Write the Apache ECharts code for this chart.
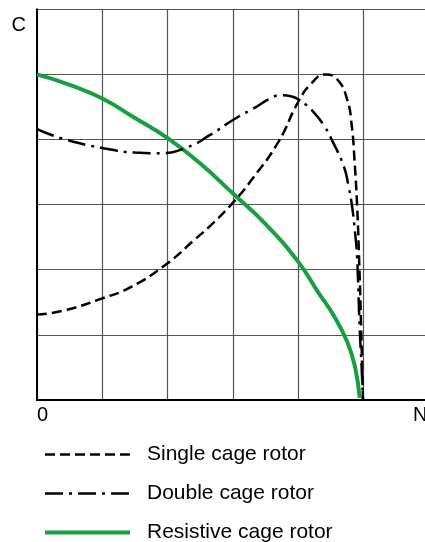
<!DOCTYPE html>
<html>
<head>
<meta charset="utf-8">
<script src="https://cdn.jsdelivr.net/npm/echarts@6/dist/echarts.min.js"></script>
<style>
html,body{margin:0;padding:0;background:#fff;}
#c{width:425px;height:542px;}
</style>
</head>
<body>
<div id="c"></div>
<script>
// Data (x: speed in grid units, y: torque in grid units)
const seriesNames = ['Single cage rotor', 'Double cage rotor', 'Resistive cage rotor'];
const singleX = [0, 0.4, 1, 1.45, 2, 2.4, 2.7, 3, 3.3, 3.7, 4, 4.2, 4.41, 4.6, 4.75, 4.82, 4.86, 4.9, 4.93, 4.96, 4.99];
const singleY = [1.31, 1.37, 1.56, 1.74, 2.1, 2.45, 2.72, 3.03, 3.4, 3.97, 4.58, 4.86, 5.0, 4.92, 4.61, 4.2, 3.69, 3.0, 2.2, 1.2, 0];
const doubleX = [0, 0.4, 1, 1.5, 1.9, 2.3, 2.65, 3, 3.37, 3.55, 3.73, 3.9, 4.05, 4.2, 4.39, 4.54, 4.7, 4.77, 4.82, 4.87, 4.9, 4.94, 4.97, 4.99];
const doubleY = [4.16, 4.01, 3.87, 3.80, 3.79, 3.88, 4.07, 4.30, 4.51, 4.62, 4.68, 4.66, 4.58, 4.46, 4.22, 3.94, 3.58, 3.28, 3.0, 2.56, 2.2, 1.1, 0.5, 0];
const resX = [0, 0.5, 1, 1.5, 2, 2.5, 3, 3.5, 4, 4.3, 4.54, 4.75, 4.87, 4.94];
const resY = [5.0, 4.84, 4.63, 4.33, 4.02, 3.63, 3.17, 2.70, 2.12, 1.66, 1.3, 0.89, 0.5, 0.03];
const xTickLabels = ['0'];
const xAxisName = 'N';
const yAxisName = 'C';

function pairs(xs, ys) { return xs.map((x, i) => [x, ys[i]]); }

const font = 'Liberation Sans, Arial, Helvetica, sans-serif';
const green = '#17a03f';
const chart = echarts.init(document.getElementById('c'), null, {renderer: 'canvas'});
chart.setOption({
  animation: false,
  backgroundColor: '#fff',
  grid: {left: 37, top: 9.3, right: 0, height: 390.6, containLabel: false, outerBoundsMode: 'none'},
  legend: {
    orient: 'vertical',
    left: 43,
    top: 444,
    height: 200,
    padding: 0,
    itemWidth: 85,
    itemHeight: 14,
    itemGap: 18,
    selectedMode: false,
    itemStyle: {opacity: 0},
    textStyle: {fontFamily: font, fontSize: 21, color: '#000', padding: [0, 0, 8, 12]},
    data: [
      {name: seriesNames[0], lineStyle: {width: 2.5}},
      {name: seriesNames[1], lineStyle: {width: 2.5}},
      {name: seriesNames[2], lineStyle: {width: 4}}
    ]
  },
  xAxis: {
    type: 'value', min: 0, max: 5.94, interval: 1,
    name: xAxisName,
    nameLocation: 'end',
    nameGap: -12,
    nameTextStyle: {fontFamily: font, fontSize: 20, color: '#000', align: 'left', verticalAlign: 'top', padding: [6, 0, 0, 0]},
    axisLine: {show: true, onZero: false, lineStyle: {color: '#000', width: 2}},
    axisTick: {show: false},
    axisLabel: {
      margin: 6, fontFamily: font, fontSize: 20, color: '#000', align: 'left',
      showMaxLabel: false,
      formatter: v => (v === 0 ? xTickLabels[0] : '')
    },
    splitLine: {show: true, showMaxLine: false, lineStyle: {color: '#555', width: 1.2}}
  },
  yAxis: {
    type: 'value', min: 0, max: 6, interval: 1,
    name: yAxisName,
    nameLocation: 'end',
    nameGap: -16,
    nameTextStyle: {fontFamily: font, fontSize: 20, color: '#000', align: 'right', verticalAlign: 'middle', padding: [0, 11, 0, 0]},
    axisLine: {show: true, onZero: false, lineStyle: {color: '#000', width: 2}},
    axisTick: {show: false},
    axisLabel: {show: false},
    splitLine: {show: true, lineStyle: {color: '#555', width: 1.2}}
  },
  series: [
    {
      name: seriesNames[0], type: 'line', data: pairs(singleX, singleY),
      symbol: 'none', showSymbol: false, smooth: 0.5, z: 3,
      lineStyle: {color: '#000', width: 2.5, type: [10, 5]},
      itemStyle: {color: '#000'}
    },
    {
      name: seriesNames[1], type: 'line', data: pairs(doubleX, doubleY),
      symbol: 'none', showSymbol: false, smooth: 0.5, z: 3,
      lineStyle: {color: '#000', width: 2.5, type: [18, 6, 3, 6]},
      itemStyle: {color: '#000'}
    },
    {
      name: seriesNames[2], type: 'line', data: pairs(resX, resY),
      symbol: 'none', showSymbol: false, smooth: 0.5, z: 2,
      lineStyle: {color: green, width: 4},
      itemStyle: {color: green}
    }
  ]
});
</script>
</body>
</html>
